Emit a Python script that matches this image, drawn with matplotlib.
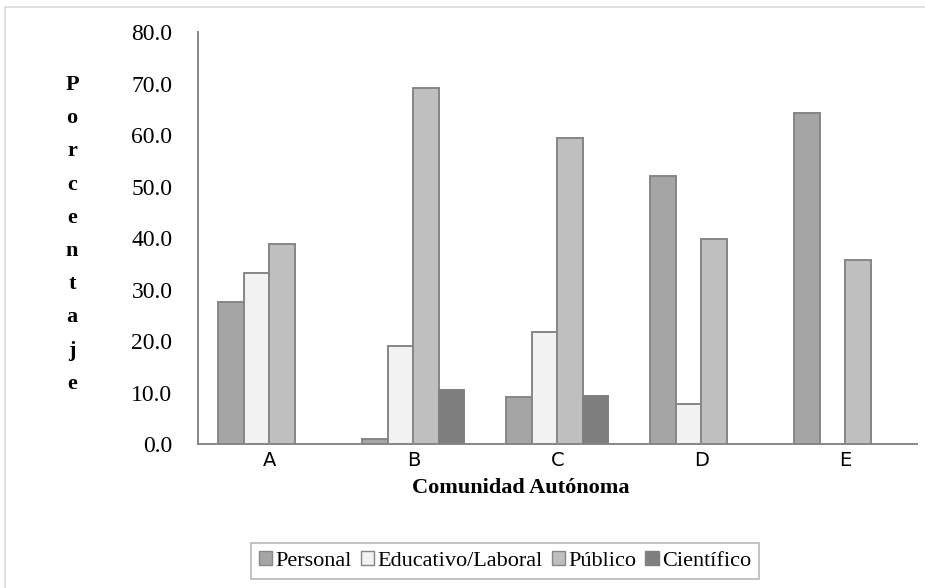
import matplotlib
matplotlib.use("Agg")
import matplotlib.pyplot as plt
import numpy as np
from matplotlib.patches import Rectangle, Patch

categories = ["A", "B", "C", "D", "E"]
series_names = ["Personal", "Educativo/Laboral", "Público", "Científico"]
personal = [27.7, 1.0, 9.2, 52.0, 64.3]
educativo = [33.3, 19.0, 21.8, 7.8, 0.0]
publico = [38.8, 69.1, 59.4, 39.9, 35.7]
cientifico = [0.0, 10.6, 9.3, 0.0, 0.0]
yticks = [0, 10, 20, 30, 40, 50, 60, 70, 80]
ylabel = "Porcentaje"
xlabel = "Comunidad Autónoma"

values = [personal, educativo, publico, cientifico]
fills = ["#a5a5a5", "#f2f2f2", "#bfbfbf", "#7f7f7f"]
edges = ["#868686", "#868686", "#868686", "#7f7f7f"]

W, H = 925, 588
fig = plt.figure(figsize=(W / 100, H / 100), dpi=100)
fig.patch.set_facecolor("white")

# outer chart frame
fig.patches.append(Rectangle((5 / W, -0.05), 1.1, 1 - 7.5 / H + 0.05,
                             transform=fig.transFigure, fill=False,
                             edgecolor="#d9d9d9", linewidth=1.2))

left, right, top, bottom = 197.5, 917, 32.3, 444.3
ax = fig.add_axes([left / W, 1 - bottom / H, (right - left) / W, (bottom - top) / H])

x = np.arange(len(categories))
bw = 25.5 / 144
for i, (vals, fc, ec) in enumerate(zip(values, fills, edges)):
    ax.bar(x + (i - 1.5) * bw, vals, width=bw, color=fc, edgecolor=ec,
           linewidth=1.4, zorder=3)

ax.set_xlim(-0.5, len(categories) - 0.5)
ax.set_ylim(0, 80)
ax.set_yticks(yticks)
ax.set_yticklabels([f"{v:.1f}" for v in yticks], fontfamily="Liberation Serif", fontsize=17)
ax.set_xticks(x)
ax.set_xticklabels(categories, fontfamily="DejaVu Sans", fontsize=14)
ax.tick_params(axis="y", length=0, pad=18)
ax.tick_params(axis="x", length=0, pad=5)
for s in ["top", "right"]:
    ax.spines[s].set_visible(False)
for s in ["left", "bottom"]:
    ax.spines[s].set_color("#868686")
    ax.spines[s].set_linewidth(1.4)
    ax.spines[s].set_zorder(4)

# vertical stacked y label
for i, ch in enumerate(ylabel):
    fig.text(72 / W, 1 - (85 + i * 33.2) / H, ch, ha="center", va="center",
             fontfamily="Liberation Serif", fontweight="bold", fontsize=16)

fig.text(521 / W, 1 - 488 / H, xlabel, ha="center", va="center",
         fontfamily="Liberation Serif", fontweight="bold", fontsize=16)

handles = [Patch(facecolor=fc, edgecolor=ec, linewidth=1.0) for fc, ec in zip(fills, edges)]
leg = fig.legend(handles, series_names, loc="center", bbox_to_anchor=(505 / W, 1 - 561 / H),
                 ncol=4, frameon=True, fancybox=False, edgecolor="#a6a6a6",
                 handlelength=0.6, handleheight=0.6, handletextpad=0.15,
                 columnspacing=0.4, borderpad=0.35,
                 prop={"family": "Liberation Serif", "size": 16})
leg.get_frame().set_linewidth(1.2)

fig.savefig("out.png", dpi=100)
